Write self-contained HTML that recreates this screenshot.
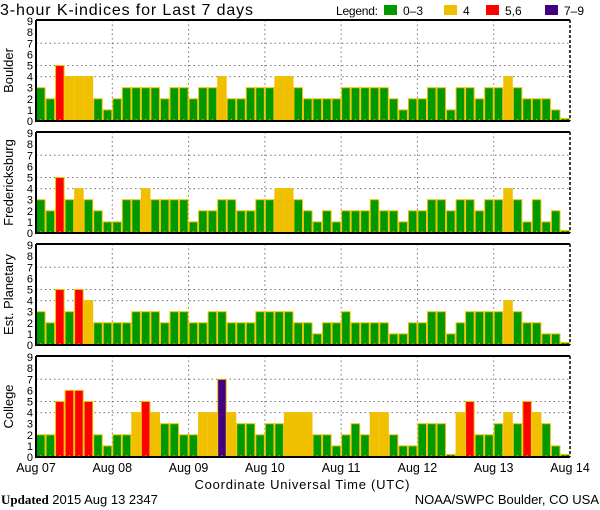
<!DOCTYPE html>
<html><head><meta charset="utf-8"><style>
body{margin:0;background:#fff;}
svg{display:block;font-family:"Liberation Sans",sans-serif;}
</style></head><body>
<svg id="chart" width="600" height="510" viewBox="0 0 600 510">
<text x="0" y="15" font-size="16" textLength="253">3-hour K-indices for Last 7 days</text>
<g font-size="12">
<text x="336" y="15" textLength="42">Legend:</text>
<rect x="384" y="5" width="13" height="10" fill="#009900"/>
<text x="403" y="15">0–3</text>
<rect x="444" y="5" width="13" height="10" fill="#f0c000"/>
<text x="463" y="15">4</text>
<rect x="486" y="5" width="13" height="10" fill="#ff0000"/>
<text x="505" y="15">5,6</text>
<rect x="545" y="5" width="13" height="10" fill="#400080"/>
<text x="564" y="15">7–9</text>
</g>
<g id="panels"></g>
<text x="302" y="489" font-size="13" text-anchor="middle" textLength="215">Coordinate Universal Time (UTC)</text>
<text x="1" y="504" font-size="13" font-family="Liberation Serif, serif"><tspan font-weight="bold">Updated</tspan><tspan font-family="Liberation Sans, sans-serif"> 2015 Aug 13 2347</tspan></text>
<text x="599" y="504" font-size="13" text-anchor="end">NOAA/SWPC Boulder, CO USA</text>
</svg>
<script>
const stations = ["Boulder","Fredericksburg","Est. Planetary","College"];
const boulder = [3,2,5,4,4,4,2,1,2,3,3,3,3,2,3,3,2,3,3,4,2,2,3,3,3,4,4,3,
                 2,2,2,2,3,3,3,3,3,2,1,2,2,3,3,1,3,3,2,3,3,4,3,2,2,2,1,0];
const fredericksburg = [3,2,5,3,4,3,2,1,1,3,3,4,3,3,3,3,1,2,2,3,3,2,2,3,3,4,4,3,
                 2,1,2,1,2,2,2,3,2,2,1,2,2,3,3,2,3,3,2,3,3,4,3,1,3,1,2,0];
const planetary = [3,2,5,3,5,4,2,2,2,2,3,3,3,2,3,3,2,2,3,3,2,2,2,3,3,3,3,2,
                 2,1,2,2,3,2,2,2,2,1,1,2,2,3,3,1,2,3,3,3,3,4,3,2,2,1,1,0];
const college = [2,2,5,6,6,5,2,1,2,2,4,5,4,3,3,2,2,4,4,7,4,3,3,2,3,3,4,4,
                 4,2,2,1,2,3,2,4,4,2,1,1,3,3,3,0,4,5,2,2,3,4,3,5,4,3,1,0];
const dayLabels = ["Aug 07","Aug 08","Aug 09","Aug 10","Aug 11","Aug 12","Aug 13","Aug 14"];
const yTicks = [0,1,2,3,4,5,6,7,8,9];
const gridLevels = [4,5,7];

const series = [boulder, fredericksburg, planetary, college];
const NS = "http://www.w3.org/2000/svg";
const X0 = 36, X1 = 570, PH = 101, tops = [20,132,244,356];
const nBars = 56;
const xScale = i => X0 + (X1 - X0) * i / nBars;
const color = v => v <= 3 ? "#009900" : v === 4 ? "#f0c000" : v <= 6 ? "#ff0000" : "#400080";
function mk(tag, attrs, parent){const e=document.createElementNS(NS,tag);for(const k in attrs)e.setAttribute(k,attrs[k]);parent.appendChild(e);return e;}
const root = document.getElementById("panels");
series.forEach((data, p) => {
  const top = tops[p], base = top + PH;
  const yScale = v => base - v * PH / 9.1;
  const g = mk("g", {}, root);
  
  
  gridLevels.forEach(l => {
    const ln = mk("line", {x1:X0, x2:X1, y1:yScale(l), y2:yScale(l), stroke:"#777", "stroke-dasharray":"1.5,3"}, g);
    
    
  });
  for (let d = 1; d < 7; d++) {
    const x = xScale(d*8);
    const ln = mk("line", {x1:x, x2:x, y1:top, y2:base, stroke:"#777", "stroke-dasharray":"1.5,3"}, g);
    
    
  }
  data.forEach((v, i) => {
    const x = xScale(i), w = xScale(i+1) - x;
    const y = v === 0 ? base - 2.5 : yScale(v);
    const r = mk("rect", {x:x+0.5, y:y, width:w-1, height:base-y, fill:color(v), stroke:"#f0c000", "stroke-width":1}, g);
    
    
    const t = mk("rect", {x:x+w/2-0.5, y:base-2, width:1, height:2, fill:"#f0c000"}, g);
    
    
  });
  const fr = mk("path", {d:`M${X0},${top} L${X1},${top} M${X0},${top} L${X0},${base} L${X1},${base}`, stroke:"#000", "stroke-width":2, fill:"none"}, g);
  
  
  const rb = mk("line", {x1:X1, x2:X1, y1:top, y2:base, stroke:"#000", "stroke-width":1.5, "stroke-dasharray":"3,2"}, g);
  
  
  yTicks.forEach(t => {
    const tx = mk("text", {x:33, y:yScale(t)+4, "font-size":11, "text-anchor":"end"}, g);
    tx.textContent = t;
    
    
  });
  const yl = mk("text", {x:0, y:0, "font-size":13, "text-anchor":"middle", transform:`translate(13,${top+PH/2}) rotate(-90)`}, g);
  yl.textContent = stations[p];
  
  
});
dayLabels.forEach((d, i) => {
  const tx = mk("text", {x:xScale(i*8), y:472, "font-size":12.5, "text-anchor":"middle"}, root);
  tx.textContent = d;
  
  
});
</script>
</body></html>
